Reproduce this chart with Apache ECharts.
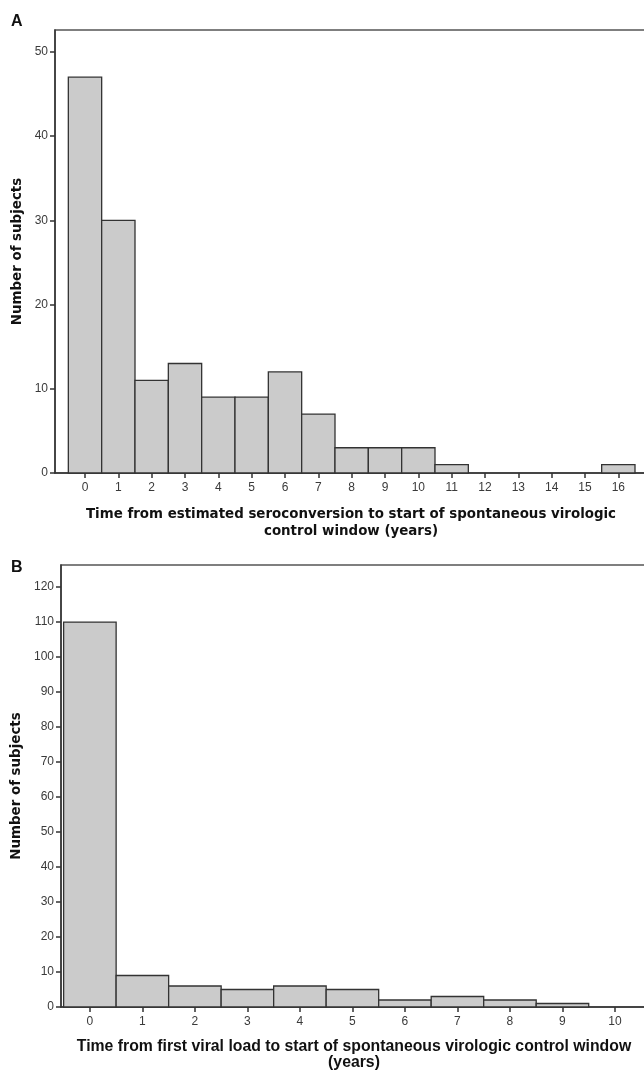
<!DOCTYPE html>
<html>
<head>
<meta charset="utf-8">
<script src="https://cdn.jsdelivr.net/npm/echarts@6/dist/echarts.min.js"></script>
<style>
html,body{margin:0;padding:0;background:#fff;}
#chart{width:644px;height:1073px;}
</style>
</head>
<body>
<div id="chart"></div>
<script>
// Panel A: time from estimated seroconversion (years)
const binsA = [0,1,2,3,4,5,6,7,8,9,10,11,12,13,14,15,16];
const countsA = [47,30,11,13,9,9,12,7,3,3,3,1,0,0,0,0,1];
const yTicksA = [0,10,20,30,40,50];

// Panel B: time from first viral load (years)
const binsB = [0,1,2,3,4,5,6,7,8,9,10];
const countsB = [110,9,6,5,6,5,2,3,2,1,0];
const yTicksB = [0,10,20,30,40,50,60,70,80,90,100,110,120];

const titleA = 'Time from estimated seroconversion to start of spontaneous virologic\ncontrol window (years)';
const titleB = 'Time from first viral load to start of spontaneous virologic control window\n(years)';
const yTitle = 'Number of subjects';

const BAR_FILL = '#cbcbcb';
const BAR_STROKE = '#333333';
const AXIS_COLOR = '#333333';
const LABEL_COLOR = '#3a3a3a';

function renderBar(params, api) {
  const x = api.value(0), y = api.value(1);
  if (y <= 0) return null;
  const p0 = api.coord([x - 0.5, y]);
  const p1 = api.coord([x + 0.5, 0]);
  return {
    type: 'rect',
    shape: {x: p0[0], y: p0[1], width: p1[0] - p0[0], height: p1[1] - p0[1]},
    style: {fill: BAR_FILL, stroke: BAR_STROKE, lineWidth: 1.3}
  };
}

function xAxisCfg(gridIndex, min, max, ticks, name, nameStyle, nameGap) {
  return {
    type: 'value', gridIndex, min, max,
    name, nameLocation: 'middle', nameGap,
    nameTextStyle: Object.assign({fontWeight: 'bold', color: '#111'}, nameStyle),
    axisLine: {show: true, onZero: false, lineStyle: {color: AXIS_COLOR, width: 1.5}},
    axisTick: {show: true, customValues: ticks, length: 5, lineStyle: {color: AXIS_COLOR, width: 1.5}},
    axisLabel: {show: true, customValues: ticks, margin: 9, fontFamily: 'Liberation Sans', fontSize: 12, color: LABEL_COLOR},
    splitLine: {show: false}
  };
}

function yAxisCfg(gridIndex, max, ticks, nameGap) {
  return {
    type: 'value', gridIndex, min: 0, max,
    name: yTitle, nameLocation: 'middle', nameGap, nameRotate: 90,
    nameTextStyle: {fontFamily: 'DejaVu Sans', fontWeight: 'bold', fontSize: 13.4, color: '#111'},
    axisLine: {show: true, onZero: false, lineStyle: {color: AXIS_COLOR, width: 1.5}},
    axisTick: {show: true, customValues: ticks, length: 5, lineStyle: {color: AXIS_COLOR, width: 1.5}},
    axisLabel: {show: true, customValues: ticks, margin: 7, fontFamily: 'Liberation Sans', fontSize: 12, color: LABEL_COLOR},
    splitLine: {show: false}
  };
}

const chart = echarts.init(document.getElementById('chart'), null, {renderer: 'canvas'});
chart.setOption({
  backgroundColor: '#ffffff',
  animation: false,
  graphic: [
    {type: 'text', left: 11, top: 14, style: {text: 'A', font: 'bold 16px "Liberation Sans"', fill: '#111'}},
    {type: 'text', left: 11, top: 560, style: {text: 'B', font: 'bold 16px "Liberation Sans"', fill: '#111'}}
  ],
  grid: [
    {left: 55, top: 30, right: -3, height: 443, show: true, borderColor: '#555', borderWidth: 1.5,
     backgroundColor: 'transparent', containLabel: false, outerBoundsMode: 'none'},
    {left: 61, top: 565, right: -3, height: 442, show: true, borderColor: '#555', borderWidth: 1.5,
     backgroundColor: 'transparent', containLabel: false, outerBoundsMode: 'none'}
  ],
  xAxis: [
    xAxisCfg(0, -0.9, 16.86, binsA, titleA, {fontFamily: 'DejaVu Sans', fontSize: 13.4, lineHeight: 17}, 33),
    xAxisCfg(1, -0.55, 10.61, binsB, titleB, {fontFamily: 'Liberation Sans', fontSize: 15.8, lineHeight: 16}, 32)
  ],
  yAxis: [
    yAxisCfg(0, 52.6, yTicksA, 25),
    yAxisCfg(1, 126.3, yTicksB, 31)
  ],
  series: [
    {type: 'custom', xAxisIndex: 0, yAxisIndex: 0, renderItem: renderBar,
     data: binsA.map((b, i) => [b, countsA[i]])},
    {type: 'custom', xAxisIndex: 1, yAxisIndex: 1, renderItem: renderBar,
     data: binsB.map((b, i) => [b, countsB[i]])}
  ]
});
</script>
</body>
</html>
